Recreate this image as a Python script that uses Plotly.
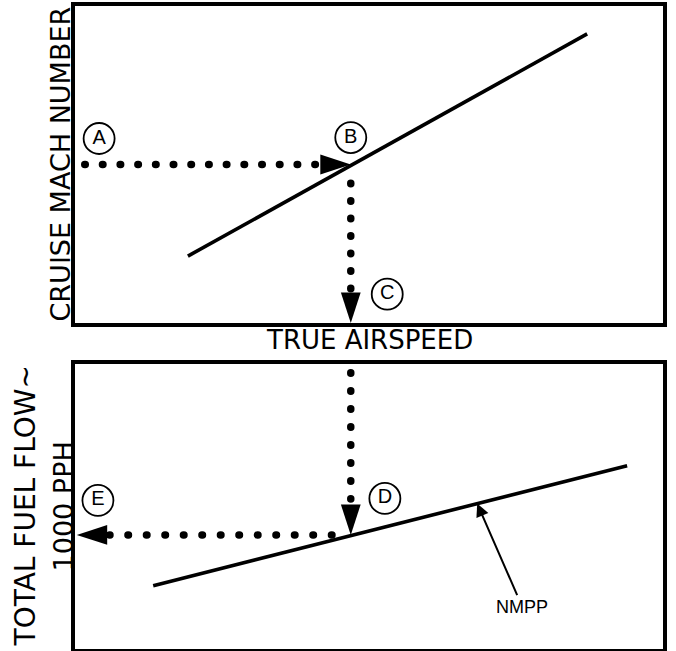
import plotly.graph_objects as go

# Upper chart: cruise Mach number against true airspeed (arbitrary 0-100 scales)
tas_upper = [19.2, 87.1]
mach_upper = [21.1, 91.2]

# Lower chart: total fuel flow against true airspeed, NMPP line
tas_lower = [13.3, 93.9]
fuel_lower = [22.2, 64.3]

# Worked example: A (Mach) -> B -> C (TAS) -> D -> E (fuel flow)
mach_a = 50.0
tas_c = 46.9
fuel_e = 40.0
tas_nmpp = 68.4
fuel_nmpp = 51.0

step_labels = ["A", "B", "C", "D", "E"]

FONT = "DejaVu Sans"
SMALL = "Liberation Sans, Arial, sans-serif"
BLACK = "black"

fig = go.Figure()

# main curves
fig.add_trace(go.Scatter(x=tas_upper, y=mach_upper, mode="lines",
                         line=dict(color=BLACK, width=3.6), xaxis="x", yaxis="y"))
fig.add_trace(go.Scatter(x=tas_lower, y=fuel_lower, mode="lines",
                         line=dict(color=BLACK, width=3.6), xaxis="x2", yaxis="y2"))


# dotted guide paths (round caps set in post_script below)
def dots(gap):
    return dict(color=BLACK, width=7.5, dash="0.5px,%spx" % gap)


fig.add_trace(go.Scatter(x=[1.66, tas_c - 6.0], y=[mach_a, mach_a], mode="lines",
                         line=dots(17.2), xaxis="x", yaxis="y"))
fig.add_trace(go.Scatter(x=[tas_c, tas_c], y=[44.1, 10.8], mode="lines",
                         line=dots(17), xaxis="x", yaxis="y"))
fig.add_trace(go.Scatter(x=[tas_c, tas_c], y=[96.9, 52.6], mode="lines",
                         line=dots(17.5), xaxis="x2", yaxis="y2"))
fig.add_trace(go.Scatter(x=[tas_c - 3.2, 5.9], y=[fuel_e, fuel_e], mode="lines",
                         line=dots(18), xaxis="x2", yaxis="y2"))

# arrowheads (tip sits on the data point)
arrow = dict(symbol="arrow", size=32, color=BLACK, line=dict(width=0))
fig.add_trace(go.Scatter(x=[tas_c, tas_c], y=[mach_a, 0], mode="markers",
                         marker=dict(arrow, angle=[90, 180]), cliponaxis=False,
                         xaxis="x", yaxis="y"))
fig.add_trace(go.Scatter(x=[tas_c, 0.3], y=[fuel_e, fuel_e], mode="markers",
                         marker=dict(arrow, angle=[180, 270]), cliponaxis=False,
                         xaxis="x2", yaxis="y2"))

# circled step letters
circ = dict(symbol="circle-open", size=31, color=BLACK, line=dict(width=1.8, color=BLACK))
txt = dict(family=SMALL, size=20, color=BLACK)
fig.add_trace(go.Scatter(x=[4.1, 46.9, 53.1], y=[58.2, 58.5, 9.1], mode="markers+text",
                         text=step_labels[:3], textposition="middle center",
                         marker=circ, textfont=txt, cliponaxis=False,
                         xaxis="x", yaxis="y"))
fig.add_trace(go.Scatter(x=[52.7, 3.9], y=[52.8, 52.1], mode="markers+text",
                         text=step_labels[3:], textposition="middle center",
                         marker=circ, textfont=txt, cliponaxis=False,
                         xaxis="x2", yaxis="y2"))

# NMPP callout
fig.add_annotation(x=tas_nmpp, y=fuel_nmpp, xref="x2", yref="y2", text="NMPP",
                   showarrow=True, ax=45, ay=103, arrowhead=2, arrowsize=1.3,
                   arrowwidth=2, arrowcolor=BLACK,
                   font=dict(family=SMALL, size=18, color=BLACK))

# axis titles as free text
title = dict(xref="paper", yref="paper", showarrow=False, textangle=-90,
             xanchor="center", yanchor="middle")
fig.add_annotation(title, x=0, y=0.7535, xshift=-15, text="CRUISE MACH NUMBER",
                   font=dict(family=FONT, size=27, color=BLACK))
fig.add_annotation(title, x=0, y=0.2217, xshift=-50, text="TOTAL FUEL FLOW~",
                   font=dict(family=FONT, size=28, color=BLACK))
fig.add_annotation(title, x=0, y=0.2217, xshift=-12, text="1000 PPH",
                   font=dict(family=FONT, size=27, color=BLACK))
fig.add_annotation(x=0.5, y=0.507, xref="paper", yref="paper", yshift=-17,
                   xanchor="center", yanchor="middle",
                   text="TRUE AIRSPEED", showarrow=False,
                   font=dict(family=FONT, size=26, color=BLACK))

frame = dict(range=[0, 100], showline=True, mirror=True, linecolor=BLACK, linewidth=3.5,
             showgrid=False, zeroline=False, showticklabels=False, ticks="",
             fixedrange=True)

fig.update_layout(
    width=676, height=651,
    margin=dict(l=75, r=13, t=4, b=2),
    paper_bgcolor="white", plot_bgcolor="white",
    showlegend=False,
    xaxis=dict(frame, domain=[0, 1], anchor="y"),
    yaxis=dict(frame, domain=[0.507, 1], anchor="x"),
    xaxis2=dict(frame, domain=[0, 1], anchor="y2"),
    yaxis2=dict(frame, domain=[0, 0.4434], anchor="x2"),
)

post = """
document.body.style.margin = '0';
document.querySelectorAll('.scatterlayer .js-line').forEach(function (p) {
  var d = p.style.strokeDasharray;
  if (d && d !== 'none') { p.style.strokeLinecap = 'round'; }
});
"""

fig.write_html("out.html", post_script=post, config={"displayModeBar": False})
